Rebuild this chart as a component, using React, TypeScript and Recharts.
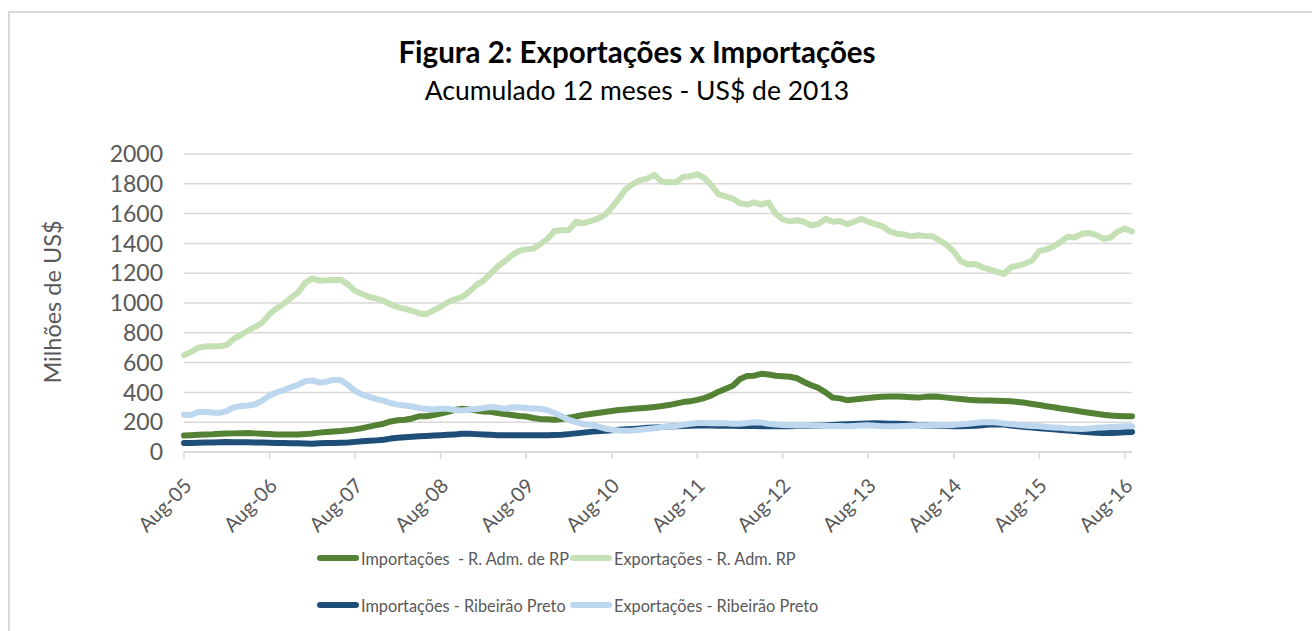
import { LineChart, Line, XAxis, YAxis, CartesianGrid, Legend } from "recharts";

const tickLabels = [
  "Aug-05", "Aug-06", "Aug-07", "Aug-08", "Aug-09", "Aug-10",
  "Aug-11", "Aug-12", "Aug-13", "Aug-14", "Aug-15", "Aug-16",
];

const yTicks = [0, 200, 400, 600, 800, 1000, 1200, 1400, 1600, 1800, 2000];

// monthly values, Aug-05 .. Sep-16 (millions of US$)
const impRAdm = [
  110, 113, 116, 118, 119, 122, 124, 125, 126, 128, 125, 122,
  120, 118, 117, 117, 118, 120, 124, 130, 134, 138, 141, 146,
  152, 160, 170, 180, 190, 205, 213, 217, 225, 240, 240, 248,
  258, 270, 282, 290, 285, 278, 272, 270, 262, 255, 248, 242,
  238, 228, 222, 219, 217, 222, 230, 238, 248, 255, 262, 268,
  275, 282, 286, 290, 293, 297, 302, 308, 315, 325, 335, 340,
  350, 362, 380, 405, 425, 445, 490, 510, 512, 525, 520, 512,
  508, 505, 495, 470, 448, 430, 400, 365, 360, 348, 352, 358,
  362, 368, 370, 372, 372, 370, 368, 365, 370, 372, 370, 365,
  360, 355, 350, 348, 346, 345, 344, 343, 340, 335, 330, 322,
  315, 307, 300, 292, 285, 278, 270, 263, 257, 250, 245, 242,
  240, 240,
];

const expRAdm = [
  650, 672, 700, 708, 710, 710, 718, 760, 785, 815, 840, 870,
  925, 965, 995, 1035, 1070, 1135, 1165, 1150, 1152, 1155, 1155, 1125,
  1080, 1060, 1040, 1030, 1015, 990, 972, 960, 948, 930, 925, 950,
  975, 1005, 1025, 1040, 1075, 1120, 1150, 1195, 1245, 1280, 1320, 1350,
  1360, 1365, 1395, 1430, 1485, 1488, 1490, 1545, 1535, 1550, 1565, 1590,
  1640, 1700, 1765, 1800, 1825, 1835, 1860, 1815, 1810, 1810, 1845, 1850,
  1865, 1840, 1790, 1730, 1715, 1700, 1670, 1660, 1675, 1660, 1675, 1600,
  1560, 1548, 1555, 1545, 1520, 1530, 1565, 1545, 1550, 1530, 1545, 1565,
  1545, 1530, 1515, 1480, 1465, 1460, 1448, 1455, 1450, 1448, 1420, 1390,
  1345, 1280, 1258, 1262, 1240, 1225, 1210, 1195, 1240, 1250, 1265, 1285,
  1350, 1360, 1380, 1410, 1445, 1440, 1465, 1470, 1455, 1430, 1440, 1480,
  1500, 1480,
];

const impRP = [
  60, 61, 62, 63, 64, 66, 67, 66, 65, 65, 64, 63,
  62, 61, 60, 59, 58, 57, 56, 58, 60, 61, 62, 64,
  68, 72, 75, 78, 82, 90, 96, 99, 102, 105, 107, 110,
  112, 115, 118, 122, 123, 120, 117, 115, 113, 112, 112, 112,
  113, 112, 112, 113, 114, 116, 120, 125, 130, 135, 140, 143,
  146, 150, 152, 155, 158, 162, 165, 168, 170, 172, 174, 176,
  178, 178, 178, 177, 176, 176, 175, 175, 174, 173, 172, 172,
  172, 173, 174, 175, 176, 178, 180, 182, 184, 186, 188, 190,
  192, 193, 192, 190, 190, 188, 185, 180, 178, 176, 175, 174,
  173, 173, 174, 176, 180, 184, 186, 184, 178, 172, 168, 164,
  160, 156, 152, 148, 145, 140, 136, 132, 130, 128, 128, 130,
  132, 135,
];

const expRP = [
  250, 248, 268, 268, 265, 262, 275, 300, 308, 312, 320, 345,
  380, 400, 415, 435, 450, 475, 480, 465, 472, 485, 482, 450,
  410, 385, 370, 355, 345, 328, 318, 312, 305, 295, 288, 285,
  290, 290, 282, 278, 283, 288, 295, 302, 298, 290, 300, 298,
  295, 292, 290, 280, 262, 240, 215, 200, 188, 182, 172, 158,
  150, 145, 142, 145, 150, 155, 160, 168, 170, 175, 182, 190,
  195, 195, 193, 195, 193, 190, 190, 195, 200, 198, 190, 185,
  182, 180, 178, 180, 178, 178, 176, 175, 174, 173, 175, 178,
  180, 176, 173, 173, 173, 175, 176, 178, 178, 180, 178, 180,
  182, 186, 190, 195, 200, 202, 198, 192, 188, 182, 178, 175,
  173, 168, 165, 162, 158, 156, 155, 157, 162, 165, 168, 170,
  172, 173,
];

const series = [
  { key: "impRAdm", name: "Importações  - R. Adm. de RP", color: "#548235" },
  { key: "expRAdm", name: "Exportações - R. Adm. RP", color: "#c5e0b4" },
  { key: "impRP", name: "Importações - Ribeirão Preto", color: "#1f4e79" },
  { key: "expRP", name: "Exportações - Ribeirão Preto", color: "#bdd7ee" },
];

const data = impRAdm.map((v, i) => ({
  i,
  impRAdm: v,
  expRAdm: expRAdm[i],
  impRP: impRP[i],
  expRP: expRP[i],
}));

const FONT = "Lato, 'Open Sans', sans-serif";
const GRID = "#d9d9d9";
const TEXT = "#595959";

function XTick({ x, y, payload }: any) {
  const label = tickLabels[Math.round(payload.value / 12)];
  const ax = x + 9;
  const ay = y + 26;
  return (
    <text
      x={ax}
      y={ay}
      transform={`rotate(-45 ${ax} ${ay})`}
      textAnchor="end"
      fill={TEXT}
      fontSize={20}
      fontFamily={FONT}
    >
      {label}
    </text>
  );
}

function LegendBox() {
  return (
    <div
      style={{
        display: "grid",
        gridTemplateColumns: "253px auto",
        rowGap: 23,
        paddingLeft: 317,
        fontFamily: FONT,
        fontSize: 16.3,
        color: TEXT,
      }}
    >
      {series.map((s) => (
        <div key={s.key} style={{ display: "flex", alignItems: "center", height: 24 }}>
          <div
            style={{
              flexShrink: 0,
              width: 42,
              height: 6,
              borderRadius: 3,
              background: s.color,
              marginRight: 2,
            }}
          />
          <span style={{ whiteSpace: "pre" }}>{s.name}</span>
        </div>
      ))}
    </div>
  );
}

export default function App() {
  return (
    <div
      style={{
        position: "fixed",
        left: 0,
        top: 0,
        width: 1312,
        height: 631,
        overflow: "hidden",
        background: "#fff",
      }}
    >
      <div
        style={{
          position: "absolute",
          left: 8,
          top: 11,
          width: 1320,
          height: 640,
          border: `2px solid ${GRID}`,
        }}
      />
      <div
        style={{
          position: "absolute",
          top: 33,
          left: 0,
          width: 1274,
          textAlign: "center",
          fontFamily: FONT,
          color: "#000",
          lineHeight: "38px",
        }}
      >
        <div style={{ fontSize: 29.5, fontWeight: 700 }}>Figura 2: Exportações x Importações</div>
        <div style={{ fontSize: 26.5 }}>Acumulado 12 meses - US$ de 2013</div>
      </div>
      <div
        style={{
          position: "absolute",
          left: 52,
          top: 302,
          transform: "translate(-50%, -50%) rotate(-90deg)",
          whiteSpace: "nowrap",
          fontFamily: FONT,
          fontSize: 23.5,
          color: TEXT,
        }}
      >
        Milhões de US$
      </div>
      <LineChart
        width={1312}
        height={631}
        data={data}
        margin={{ top: 154, right: 180, bottom: 119, left: 0 }}
        style={{ position: "absolute", left: 0, top: 0 }}
      >
        <CartesianGrid vertical={false} stroke={GRID} strokeWidth={1.5} />
        <XAxis
          type="number"
          dataKey="i"
          domain={[0, 133]}
          ticks={tickLabels.map((_, k) => k * 12)}
          interval={0}
          height={60}
          stroke={GRID}
          strokeWidth={1.5}
          tickSize={7}
          tickMargin={2}
          tick={<XTick />}
        />
        <YAxis
          width={184}
          domain={[0, 2000]}
          ticks={yTicks}
          interval={0}
          axisLine={false}
          tickLine={false}
          tickSize={0}
          tickMargin={21}
          tick={{ fill: TEXT, fontSize: 23, fontFamily: FONT }}
        />
        <Legend
          verticalAlign="middle"
          align="center"
          wrapperStyle={{ top: 546, left: 0, width: 1312 }}
          content={<LegendBox />}
        />
        {series.map((s) => (
          <Line
            key={s.key}
            type="linear"
            dataKey={s.key}
            name={s.name}
            stroke={s.color}
            strokeWidth={6}
            strokeLinejoin="round"
            strokeLinecap="round"
            dot={false}
            activeDot={false}
            isAnimationActive={false}
          />
        ))}
      </LineChart>
    </div>
  );
}
